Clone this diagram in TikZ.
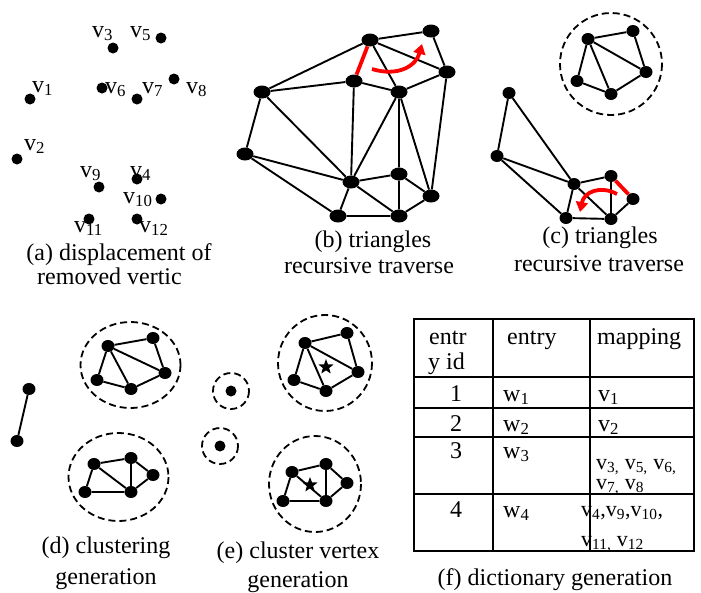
\documentclass[tikz,border=0pt]{standalone}
\usepackage{fontspec}
\setmainfont{Liberation Serif}
\usetikzlibrary{shapes.geometric,arrows.meta}

\begin{document}
\begin{tikzpicture}[x=1pt,y=-1pt,
  dot/.style={circle,fill,inner sep=0pt,minimum size=11pt},
  vtx/.style={ellipse,fill,inner sep=0pt,minimum width=17pt,minimum height=13pt},
  svtx/.style={ellipse,fill,inner sep=0pt,minimum width=13pt,minimum height=12pt},
  edge/.style={line width=1.9pt},
  hot/.style={draw=red,line width=3.8pt},
  hotarrow/.style={red,line width=3.8pt,-{Triangle[length=10pt,width=12pt]}},
  ring/.style={line width=1.8pt,dash pattern=on 7pt off 4pt},
  lbl/.style={anchor=base west,inner sep=0pt,font=\fontsize{24}{26}\selectfont},
  capt/.style={anchor=base,inner sep=0pt,font=\fontsize{24}{26}\selectfont},
  sml/.style={anchor=base west,inner sep=0pt,font=\fontsize{22}{24}\selectfont},
  star5/.style={star,star points=5,star point ratio=2.4,fill,inner sep=0pt,minimum size=16pt}]
\useasboundingbox (0,0) rectangle (701,592);

% (a) displacement of removed vertices
\node[dot] (a1) at (30,99) {};
\node[dot] (a2) at (17,159) {};
\node[dot] (a3) at (113,48) {};
\node[dot] (a4) at (137,179) {};
\node[dot] (a5) at (161,38) {};
\node[dot] (a6) at (102,88) {};
\node[dot] (a7) at (137,99) {};
\node[dot] (a8) at (174,79) {};
\node[dot] (a9) at (99,187) {};
\node[dot] (a10) at (161,199) {};
\node[dot] (a11) at (89,219) {};
\node[dot] (a12) at (137,219) {};
\node[lbl] (la1) at (32,92) {v\textsubscript{1}};
\node[lbl] (la2) at (24,150) {v\textsubscript{2}};
\node[lbl] (la3) at (92,37) {v\textsubscript{3}};
\node[lbl] (la4) at (130,177) {v\textsubscript{4}};
\node[lbl] (la5) at (130,37) {v\textsubscript{5}};
\node[lbl] (la6) at (105,93) {v\textsubscript{6}};
\node[lbl] (la7) at (142,93) {v\textsubscript{7}};
\node[lbl] (la8) at (186,93) {v\textsubscript{8}};
\node[lbl] (la9) at (80,177) {v\textsubscript{9}};
\node[lbl] (la10) at (123,203) {v\textsubscript{10}};
\node[lbl] (la11) at (74,232) {v\textsubscript{11}};
\node[lbl] (la12) at (139,232) {v\textsubscript{12}};
\node[capt] (capa1) at (119,260) {(a) displacement of};
\node[lbl] (capa2) at (37,284) {removed vertic};

% (b) triangles recursive traverse
\node[vtx] (b1) at (370,40) {};
\node[vtx] (b2) at (431,31) {};
\node[vtx] (b3) at (447,72) {};
\node[vtx] (b4) at (354,81) {};
\node[vtx] (b5) at (399,92) {};
\node[vtx] (b6) at (262,92) {};
\node[vtx] (b7) at (245,154) {};
\node[vtx] (b8) at (351,182) {};
\node[vtx] (b9) at (399,174) {};
\node[vtx] (b10) at (431,196) {};
\node[vtx] (b11) at (338,216) {};
\node[vtx] (b12) at (399,216) {};
\draw[edge] (b1) -- (b2) -- (b3) -- (b1) -- (b5) -- (b3) -- (b10) -- (b12) -- (b11) -- (b7) -- (b6) -- (b1);
\draw[edge] (b6) -- (b4) -- (b5) -- (b9) -- (b10) -- (b5) -- (b8) -- (b4);
\draw[edge] (b6) -- (b8) -- (b7);
\draw[edge] (b11) -- (b8) -- (b12) -- (b9) -- (b8);
\draw[hot] (b1) -- (b4); % red edge
\draw[hotarrow] (372,69) .. controls (398,77) and (416,66) .. (422,44);
\node[capt] (capb1) at (373,247) {(b) triangles};
\node[capt] (capb2) at (369,273) {recursive traverse};

% (c) triangles recursive traverse
\draw[ring] (611,64) circle (51);
\node[svtx] (c1) at (588,39) {};
\node[svtx] (c2) at (633,31) {};
\node[svtx] (c3) at (646,72) {};
\node[svtx] (c4) at (611,94) {};
\node[svtx] (c5) at (577,81) {};
\draw[edge] (c1) -- (c2) -- (c3) -- (c4) -- (c5) -- (c1) -- (c3);
\draw[edge] (c1) -- (c4);
\node[svtx] (c6) at (509,93) {};
\node[svtx] (c7) at (497,156) {};
\node[svtx] (c8) at (574,184) {};
\node[svtx] (c9) at (611,176) {};
\node[svtx] (c10) at (633,199) {};
\node[svtx] (c11) at (566,218) {};
\node[svtx] (c12) at (611,219) {};
\draw[edge] (c6) -- (c7) -- (c11) -- (c12) -- (c10);
\draw[edge] (c6) -- (c8) -- (c12) -- (c9) -- (c8) -- (c11);
\draw[edge] (c7) -- (c8);
\draw[hot] (c9) -- (c10); % red edge
\draw[hotarrow] (617,194) .. controls (600,185) and (584,192) .. (580,212);
\node[capt] (capc1) at (600,243) {(c) triangles};
\node[capt] (capc2) at (599,271) {recursive traverse};

% (d) clustering generation
\node[svtx] (d1) at (29,389) {};
\node[svtx] (d2) at (17,441) {};
\draw[edge] (d1) -- (d2);
\draw[ring] (130.5,365) ellipse [x radius=50, y radius=43];
\node[svtx] (d3) at (108,346) {};
\node[svtx] (d4) at (153,338) {};
\node[svtx] (d5) at (165,373) {};
\node[svtx] (d6) at (131,389) {};
\node[svtx] (d7) at (97,380) {};
\draw[edge] (d3) -- (d4) -- (d5) -- (d6) -- (d7) -- (d3) -- (d5);
\draw[edge] (d3) -- (d6);
\draw[ring] (118.5,477) ellipse [x radius=50, y radius=44];
\node[svtx] (d8) at (94,464) {};
\node[svtx] (d9) at (131,458) {};
\node[svtx] (d10) at (153,475) {};
\node[svtx] (d11) at (131,492) {};
\node[svtx] (d12) at (85,492) {};
\draw[edge] (d12) -- (d8) -- (d9) -- (d10) -- (d11) -- (d12);
\draw[edge] (d8) -- (d11) -- (d9);
\node[capt] (capd1) at (106,553) {(d) clustering};
\node[capt] (capd2) at (106,584) {generation};

% (e) cluster vertex generation
\draw[ring] (231,391) circle (18);
\node[dot] (e0) at (231,391) {};
\draw[ring] (220,446) circle (18);
\node[dot] (e00) at (220,446) {};
\draw[ring] (325,363) ellipse [x radius=47, y radius=48];
\node[svtx] (e1) at (305,343) {};
\node[svtx] (e2) at (347,333) {};
\node[svtx] (e3) at (358,372) {};
\node[svtx] (e4) at (326,391) {};
\node[svtx] (e5) at (294,380) {};
\draw[edge] (e1) -- (e2) -- (e3) -- (e4) -- (e5) -- (e1) -- (e3);
\draw[edge] (e1) -- (e4);
\node[star5] (s1) at (326,367) {};
\draw[ring] (315,484) ellipse [x radius=46, y radius=48];
\node[svtx] (e6) at (292,472) {};
\node[svtx] (e7) at (326,464) {};
\node[svtx] (e8) at (347,483) {};
\node[svtx] (e9) at (326,501) {};
\node[svtx] (e10) at (283,501) {};
\draw[edge] (e10) -- (e6) -- (e7) -- (e8) -- (e9) -- (e10);
\draw[edge] (e6) -- (e9) -- (e7);
\node[star5] (s2) at (310,485) {};
\node[capt] (cape1) at (298,558) {(e) cluster vertex};
\node[capt] (cape2) at (298,587) {generation};

% (f) dictionary generation
\draw[line width=2pt] (414,319) rectangle (694,551);
\draw[line width=2pt] (493,319) -- (493,551);
\draw[line width=2pt] (590,319) -- (590,551);
\draw[line width=2pt] (414,377) -- (694,377);
\draw[line width=2pt] (414,408) -- (694,408);
\draw[line width=2pt] (414,437) -- (694,437);
\draw[line width=2pt] (414,494) -- (694,494);
\node[lbl] (hid1) at (429,344) {entr};
\node[lbl] (hid2) at (428,369) {y id};
\node[lbl] (hent) at (507,344) {entry};
\node[lbl] (hmap) at (597,344) {mapping};
\node[capt] (id1) at (456,401) {1};
\node[capt] (id2) at (456,431) {2};
\node[capt] (id3) at (456,458) {3};
\node[capt] (id4) at (456,517) {4};
\node[lbl] (w1) at (503,401) {w\textsubscript{1}};
\node[lbl] (w2) at (503,431) {w\textsubscript{2}};
\node[lbl] (w3) at (503,458) {w\textsubscript{3}};
\node[lbl] (w4) at (503,517) {w\textsubscript{4}};
\node[lbl] (m1) at (598,401) {v\textsubscript{1}};
\node[lbl] (m2) at (598,431) {v\textsubscript{2}};
\node[sml] (m3a) at (596,469) {v\textsubscript{3,} v\textsubscript{5,} v\textsubscript{6,}};
\node[sml] (m3b) at (596,489) {v\textsubscript{7,} v\textsubscript{8}};
\node[sml] (m4a) at (581,516) {v\textsubscript{4},v\textsubscript{9},v\textsubscript{10},};
\node[sml] (m4b) at (581,546) {v\textsubscript{11,} v\textsubscript{12}};
\node[capt] (capf) at (555,585) {(f) dictionary generation};

\end{tikzpicture}
\end{document}
